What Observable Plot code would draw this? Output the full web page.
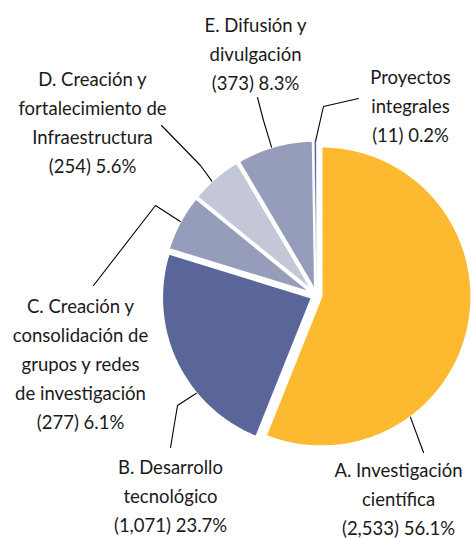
<!DOCTYPE html>
<html>
<head>
<meta charset="utf-8">
<script src="https://cdn.jsdelivr.net/npm/d3@7"></script>
<script src="https://cdn.jsdelivr.net/npm/@observablehq/plot@0.6"></script>
<style>
  html, body { margin: 0; padding: 0; background: #ffffff; }
  #chart { width: 471px; height: 538px; }
</style>
</head>
<body>
<div id="chart"></div>
<script>
// ---- data ----
const categories = [
  "A. Investigación científica",
  "B. Desarrollo tecnológico",
  "C. Creación y consolidación de grupos y redes de investigación",
  "D. Creación y fortalecimiento de Infraestructura",
  "E. Difusión y divulgación",
  "Proyectos integrales"
];
const labelLines = [
  ["A. Investigación", "científica"],
  ["B. Desarrollo", "tecnológico"],
  ["C. Creación y", "consolidación de", "grupos y redes", "de investigación"],
  ["D. Creación y", "fortalecimiento de", "Infraestructura"],
  ["E. Difusión y", "divulgación"],
  ["Proyectos", "integrales"]
];
const counts = [2533, 1071, 277, 254, 373, 11];
const percents = ["56.1%", "23.7%", "6.1%", "5.6%", "8.3%", "0.2%"];

// ---- styles ----
const palette = ["#FDB92F", "#5A6699", "#969DBA", "#C3C7D7", "#969DBA", "#5A6699"];

// ---- layout (annotation placement) ----
const W = 471, H = 538;
const cx = 316, cy = 295, R = 150, explode = 5;
const labelLayout = [
  {x: 398, y: 496, leaderDeg: 143.6, elbow: null,       tail: [423, 452]},
  {x: 170, y: 493, leaderDeg: 230.4, elbow: [177, 405], tail: [170, 447]},
  {x: 80,  y: 361, leaderDeg: 298.5, elbow: [155, 205], tail: [93, 285]},
  {x: 92,  y: 120, leaderDeg: 317.5, elbow: [200, 165], tail: [161, 125]},
  {x: 255, y: 51,  leaderDeg: 343.1, elbow: [263, 120], tail: [257, 97]},
  {x: 410, y: 103, leaderDeg: 359.7, elbow: [323, 106], tail: [358, 98]}
];

// ---- geometry from data ----
const arcs = d3.pie().sort(null).value(d => d)(counts);
const fmt = d3.format(",");

const slicePolys = arcs.map((p, i) => {
  const mid = (p.startAngle + p.endAngle) / 2;
  const ox = cx + explode * Math.sin(mid);
  const oy = cy - explode * Math.cos(mid);
  const n = Math.max(2, Math.ceil((p.endAngle - p.startAngle) / 0.01));
  const pts = [{x: ox, y: oy}];
  for (let k = 0; k <= n; k++) {
    const a = p.startAngle + (p.endAngle - p.startAngle) * k / n;
    pts.push({x: ox + R * Math.sin(a), y: oy - R * Math.cos(a)});
  }
  pts.push({x: ox, y: oy});
  return {i, mid, ox, oy, pts};
});

const leaders = [];
slicePolys.forEach((s, i) => {
  const L = labelLayout[i];
  const a = L.leaderDeg * Math.PI / 180;
  leaders.push({i, x: s.ox + R * Math.sin(a), y: s.oy - R * Math.cos(a)});
  if (L.elbow) leaders.push({i, x: L.elbow[0], y: L.elbow[1]});
  leaders.push({i, x: L.tail[0], y: L.tail[1]});
});

const labels = categories.map((c, i) => ({
  name: c,
  text: [...labelLines[i], `(${fmt(counts[i])}) ${percents[i]}`].join("\n"),
  x: labelLayout[i].x,
  y: labelLayout[i].y
}));

const sliceMarks = slicePolys.map((s, i) =>
  Plot.line(s.pts, {
    x: "x", y: "y",
    fill: palette[i],
    stroke: "#ffffff",
    strokeWidth: counts[i] / d3.sum(counts) < 0.01 ? 0.6 : 2.2,
    strokeLinejoin: "miter"
  })
);

const fontSize = 18.5;
const chart = Plot.plot({
  width: W,
  height: H,
  margin: 0,
  x: {domain: [0, W], range: [0, W], axis: null},
  y: {domain: [0, H], range: [0, H], axis: null},
  style: {background: "#ffffff", overflow: "visible"},
  marks: [
    ...sliceMarks,
    Plot.line(leaders, {x: "x", y: "y", z: "i", stroke: "#000000", strokeWidth: 1.1}),
    Plot.text(labels, {
      x: "x", y: "y", text: "text",
      textAnchor: "middle",
      lineAnchor: "middle",
      lineHeight: 29 / fontSize,
      fontSize: fontSize,
      fontFamily: "Lato, 'Open Sans', sans-serif",
      fill: "#1a1a1a"
    })
  ]
});
document.getElementById("chart").appendChild(chart);
</script>
</body>
</html>
